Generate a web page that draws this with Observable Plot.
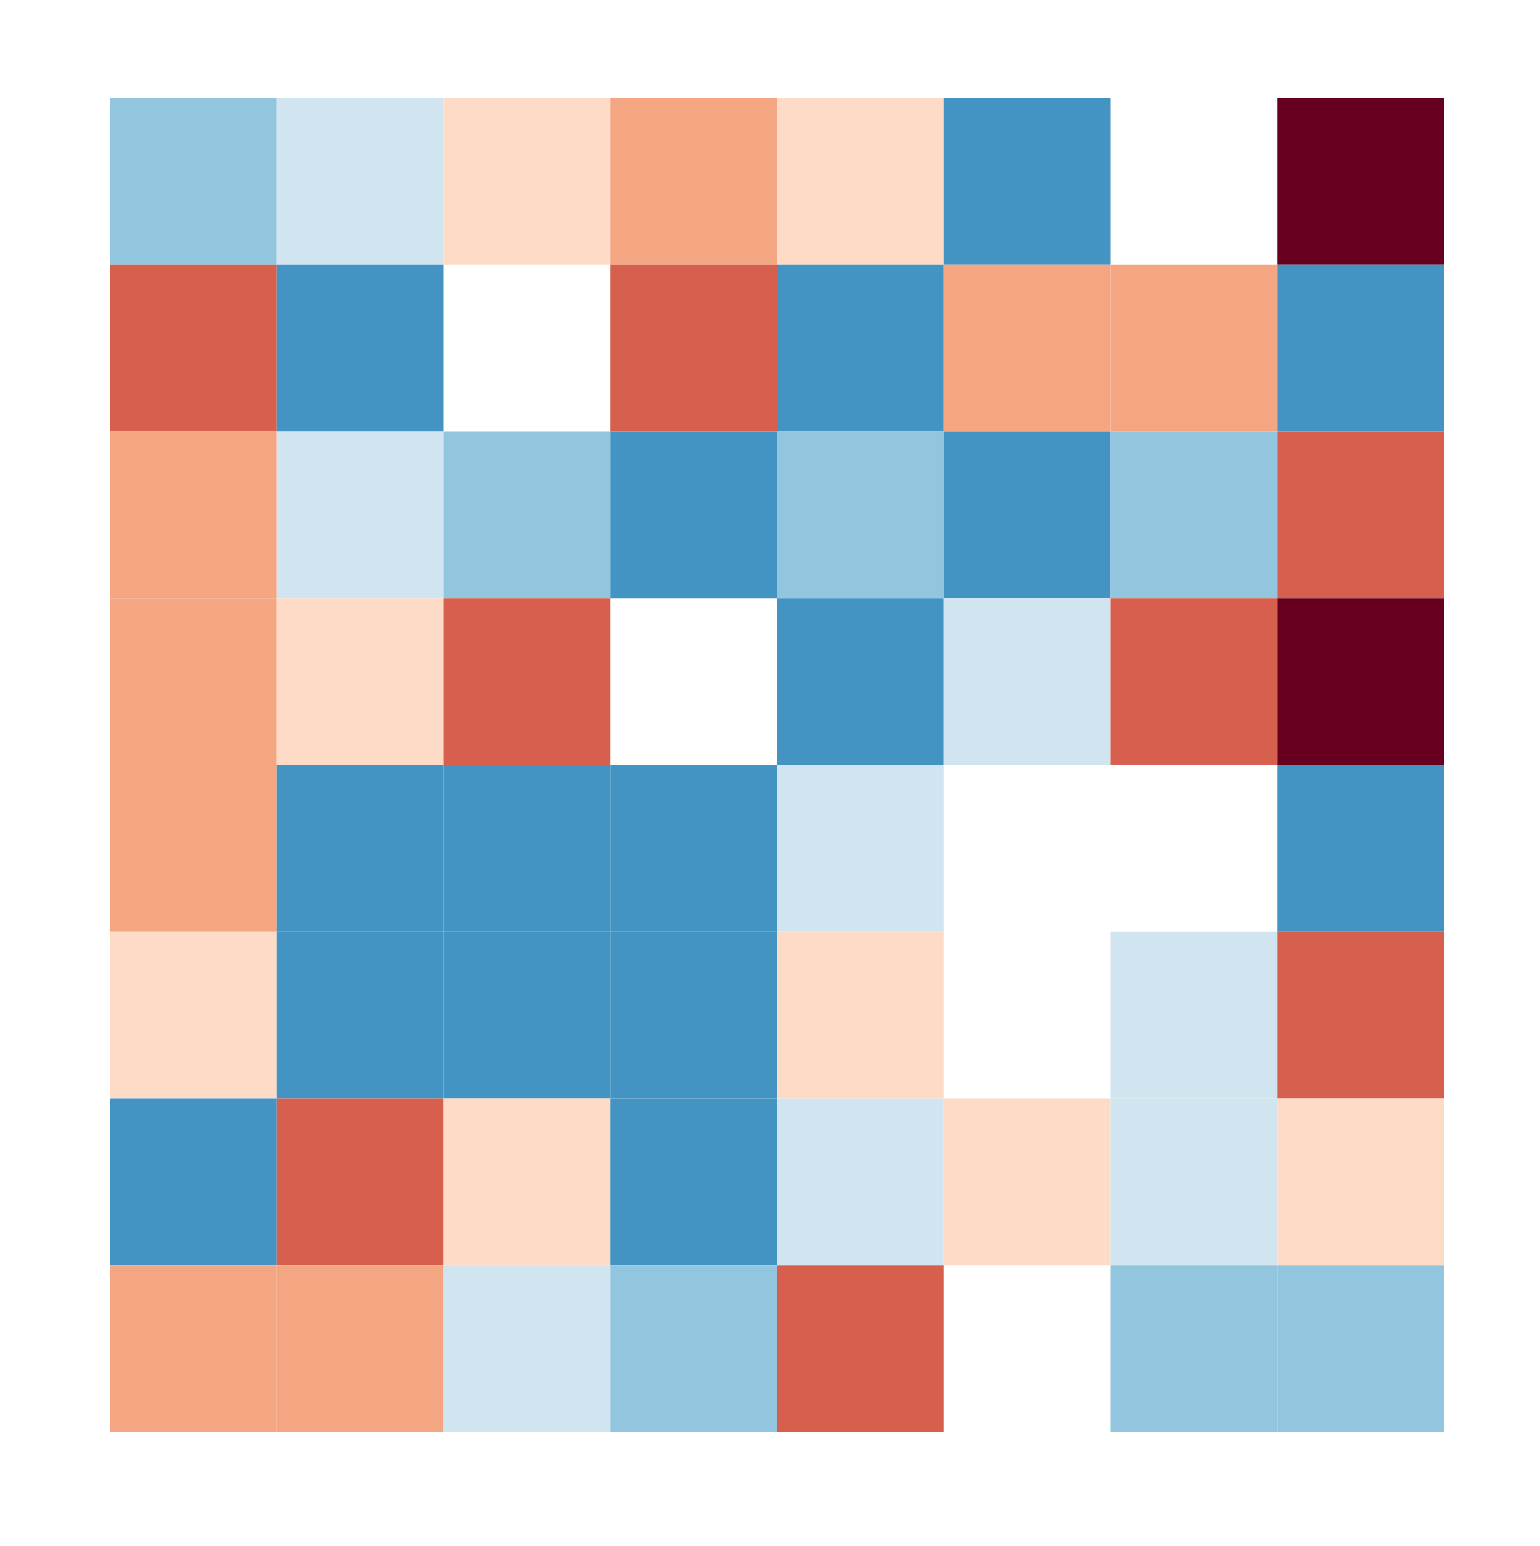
<!DOCTYPE html>
<html>
<head>
<meta charset="utf-8">
<script src="https://cdn.jsdelivr.net/npm/d3@7"></script>
<script src="https://cdn.jsdelivr.net/npm/@observablehq/plot@0.6"></script>
<style>
  html, body { margin: 0; padding: 0; background: #ffffff; }
  #chart svg { display: block; }
</style>
</head>
<body>
<div id="chart"></div>
<script>
// Row and column categories
const rowLabels = ["R1", "R2", "R3", "R4", "R5", "R6", "R7", "R8"];
const colLabels = ["C1", "C2", "C3", "C4", "C5", "C6", "C7", "C8"];

// Values per row (diverging level, -5 .. 5; null = empty cell)
const row1 = [2, 1, -1, -2, -1, 3, null, -5];
const row2 = [-3, 3, null, -3, 3, -2, -2, 3];
const row3 = [-2, 1, 2, 3, 2, 3, 2, -3];
const row4 = [-2, -1, -3, null, 3, 1, -3, -5];
const row5 = [-2, 3, 3, 3, 1, null, null, 3];
const row6 = [-1, 3, 3, 3, -1, null, 1, -3];
const row7 = [3, -3, -1, 3, 1, -1, 1, -1];
const row8 = [-2, -2, 1, 2, -3, null, 2, 2];
const rowValues = [row1, row2, row3, row4, row5, row6, row7, row8];

// Level domain for the 11-class diverging scheme
const levels = [-5, -4, -3, -2, -1, 0, 1, 2, 3, 4, 5];

const table = [];
rowLabels.forEach((r, i) => {
  colLabels.forEach((c, j) => {
    const v = rowValues[i][j];
    if (v !== null) table.push({row: r, col: c, value: v});
  });
});

const chart = Plot.plot({
  width: 1540,
  height: 1546,
  marginLeft: 110,
  marginRight: 96,
  marginTop: 98,
  marginBottom: 114,
  x: {domain: colLabels, padding: 0, round: false, axis: null},
  y: {domain: rowLabels, padding: 0, round: false, axis: null},
  color: {type: "ordinal", domain: levels, range: d3.schemeRdBu[11]},
  marks: [
    Plot.cell(table, {x: "col", y: "row", fill: "value", inset: 0})
  ]
});
document.getElementById("chart").appendChild(chart);
</script>
</body>
</html>
